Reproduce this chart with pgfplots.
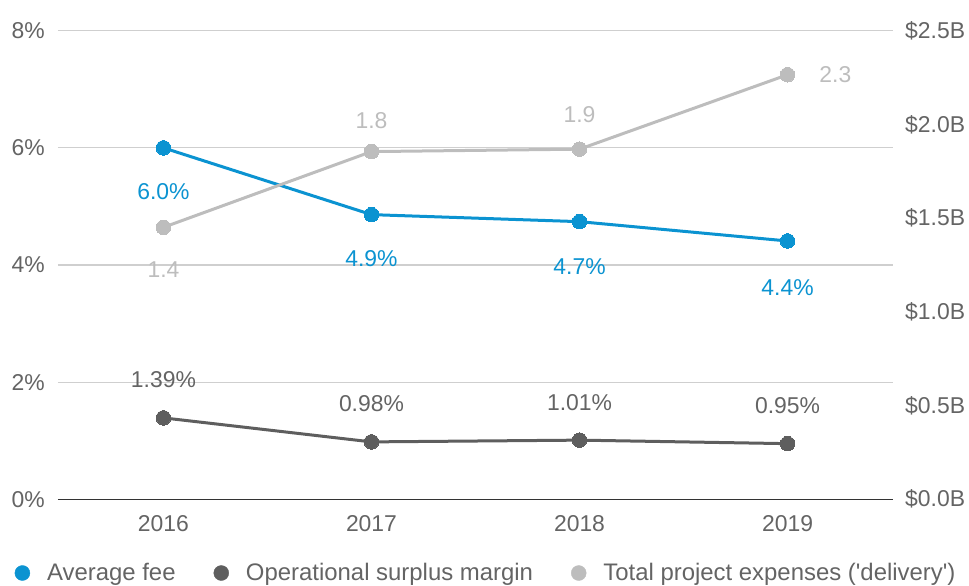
\documentclass[border=0pt]{standalone}
\usepackage{pgfplots}
\pgfplotsset{compat=1.18}
\usepackage{pgfplotstable}
\usepackage{fontspec}
\setmainfont{Liberation Sans}
\definecolor{cblue}{HTML}{0B93D1}
\definecolor{cdark}{HTML}{5E5E5E}
\definecolor{clight}{HTML}{BDBDBD}
\definecolor{cgrid}{HTML}{CFCFCF}
\definecolor{ctext}{HTML}{646464}
\definecolor{cbase}{HTML}{333333}

\pgfplotstableread{
x y lab dx dy
0 6.00 6.0 0 -44
1 4.86 4.9 0 -44
2 4.74 4.7 0 -45
3 4.41 4.4 0 -47
}\feetable
\pgfplotstableread{
x y lab dx dy
0 1.39 1.39 0 38
1 0.98 0.98 0 38
2 1.01 1.01 0 38
3 0.95 0.95 0 38
}\surplustable
\pgfplotstableread{
x y lab dx dy
0 1.451 1.4 0 -42
1 1.855 1.8 0 31
2 1.868 1.9 0 35
3 2.265 2.3 48 0
}\deliverytable

\newcommand{\fs}{\fontsize{23}{27}\selectfont}

\begin{document}
\begin{tikzpicture}
\path[use as bounding box] (0,0) rectangle (969bp,586bp);
\begin{axis}[
  at={(58bp,86.7bp)}, anchor=south west,
  scale only axis, width=835bp, height=468.6bp,
  xmin=-0.507, xmax=3.507, ymin=0, ymax=8,
  axis line style={draw=none},
  major tick length=0pt,
  /pgf/number format/assume math mode=true,
  xtick={0,1,2,3}, xticklabels={2016,2017,2018,2019},
  ytick={0,2,4,6,8}, yticklabels={0\%,2\%,4\%,6\%,8\%},
  ymajorgrids, major grid style={draw=cgrid, line width=1.2bp},
  extra y ticks={0}, extra y tick labels={},
  extra y tick style={grid=major, major grid style={draw=cbase, line width=1.4bp}},
  ticklabel style={font=\fs, text=ctext},
  yticklabel style={anchor=east, inner sep=0pt, xshift=-13bp},
  xticklabel style={anchor=north, inner sep=0pt, yshift=-16bp},
  clip=false,
  legend columns=3,
  legend image code/.code={\fill[#1] (0bp,0bp) circle (7.5bp);},
  legend style={at={(-0.0521,-0.1573)}, anchor=west, draw=none, fill=none,
    font=\fontsize{24}{28}\selectfont, text=ctext, inner sep=0pt,
    /tikz/every odd column/.append style={column sep=15bp},
    /tikz/every even column/.append style={column sep=36bp}},
]
\addlegendimage{cblue}
\addlegendentry{Average fee}
\addlegendimage{cdark}
\addlegendentry{Operational surplus margin}
\addlegendimage{clight}
\addlegendentry{Total project expenses ({\textquotesingle}delivery{\textquotesingle})}

\addplot[forget plot, cdark, line width=3bp, mark=*, mark size=7.3bp, mark options={line width=0pt},
  point meta=explicit symbolic,
  visualization depends on={\thisrow{dy} \as \dy},
  visualization depends on={\thisrow{dx} \as \dx},
  nodes near coords={\pgfplotspointmeta\%},
  every node near coord/.append style={anchor=center, xshift=\dx pt, yshift=\dy pt, font=\fs, text=ctext}]
  table[x=x, y=y, meta=lab] {\surplustable};
\addplot[forget plot, cblue, line width=3bp, mark=*, mark size=7.3bp, mark options={line width=0pt},
  point meta=explicit symbolic,
  visualization depends on={\thisrow{dy} \as \dy},
  visualization depends on={\thisrow{dx} \as \dx},
  nodes near coords={\pgfplotspointmeta\%},
  every node near coord/.append style={anchor=center, xshift=\dx pt, yshift=\dy pt, font=\fs, text=cblue}]
  table[x=x, y=y, meta=lab] {\feetable};
\end{axis}
\begin{axis}[
  at={(58bp,86.7bp)}, anchor=south west,
  scale only axis, width=835bp, height=468.6bp,
  xmin=-0.507, xmax=3.507, ymin=0, ymax=2.5,
  hide x axis,
  axis y line*=right,
  axis line style={draw=none},
  major tick length=0pt,
  ytick={0,0.5,1,1.5,2,2.5},
  yticklabels={\$0.0B,\$0.5B,\$1.0B,\$1.5B,\$2.0B,\$2.5B},
  ticklabel style={font=\fs, text=ctext},
  yticklabel style={anchor=west, inner sep=0pt, xshift=12bp},
  clip=false,
]
\addplot[clight, line width=3bp, mark=*, mark size=7.3bp, mark options={line width=0pt},
  point meta=explicit symbolic,
  visualization depends on={\thisrow{dy} \as \dy},
  visualization depends on={\thisrow{dx} \as \dx},
  nodes near coords={\pgfplotspointmeta},
  every node near coord/.append style={anchor=center, xshift=\dx pt, yshift=\dy pt, font=\fs, text=clight}]
  table[x=x, y=y, meta=lab] {\deliverytable};
\end{axis}
\end{tikzpicture}
\end{document}
